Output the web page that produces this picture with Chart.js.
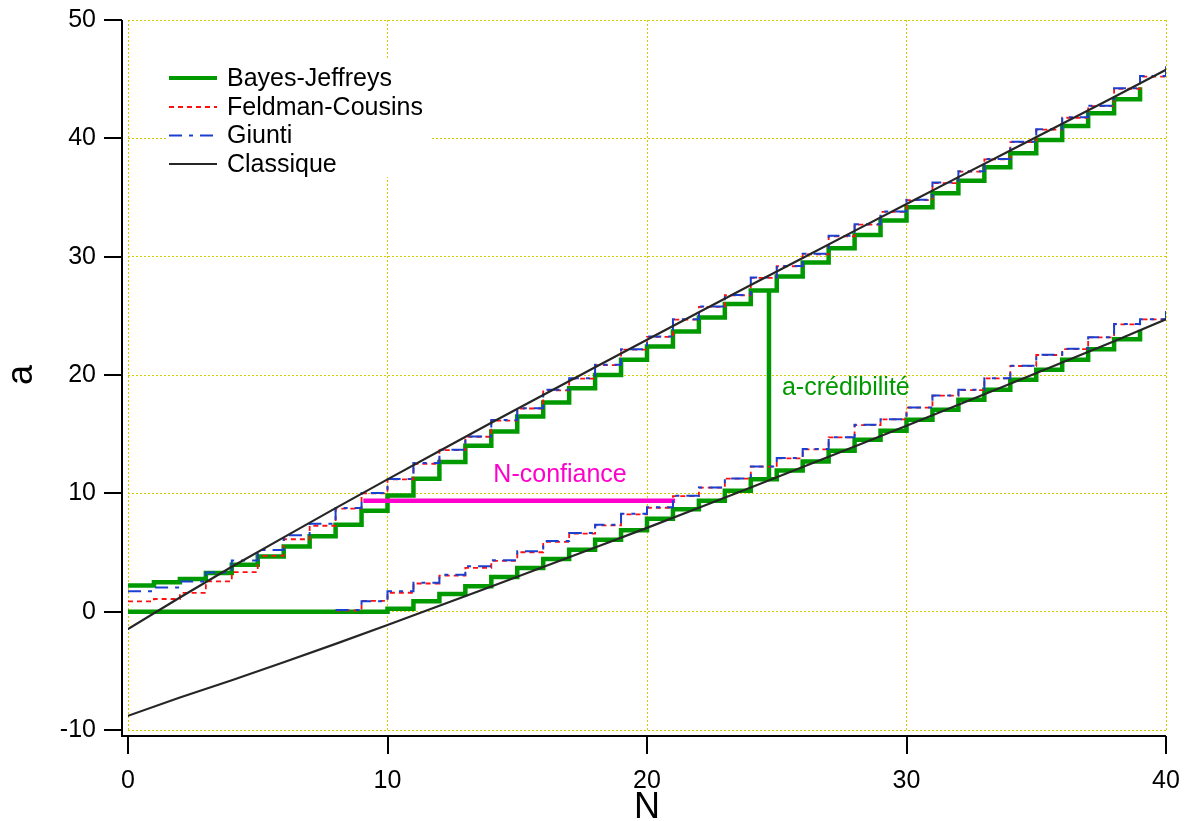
<!DOCTYPE html>
<html>
<head>
<meta charset="utf-8">
<title>Intervalles a vs N</title>
<script src="https://cdn.jsdelivr.net/npm/chart.js@4.4.0/dist/chart.umd.min.js"></script>
<style>
  html, body { margin: 0; padding: 0; background: #ffffff; }
  #wrap { width: 1186px; height: 821px; }
</style>
</head>
<body>
<div id="wrap"><canvas id="c" width="1186" height="821"></canvas></div>
<script>
// Observed counts N
const nValues = [0, 1, 2, 3, 4, 5, 6, 7, 8, 9, 10, 11, 12, 13, 14, 15, 16, 17, 18, 19, 20,
                 21, 22, 23, 24, 25, 26, 27, 28, 29, 30, 31, 32, 33, 34, 35, 36, 37, 38, 39, 40];

// Bayes-Jeffreys interval bounds (N = 0 .. 39)
const bayesUpper = [2.22, 2.48, 2.76, 3.27, 3.97, 4.67, 5.50, 6.38, 7.35, 8.53,
                    9.82, 11.23, 12.64, 14.02, 15.23, 16.50, 17.68, 18.89, 20.00, 21.28,
                    22.41, 23.68, 24.86, 26.01, 27.15, 28.32, 29.50, 30.72, 31.84, 33.05,
                    34.18, 35.36, 36.42, 37.56, 38.74, 39.86, 41.05, 42.12, 43.30, 44.31];
const bayesLower = [0, 0, 0, 0, 0, 0, 0, 0, 0, 0,
                    0.25, 0.87, 1.50, 2.14, 2.93, 3.69, 4.45, 5.24, 6.08, 6.87,
                    7.85, 8.65, 9.37, 10.22, 11.20, 11.94, 12.70, 13.60, 14.53, 15.29,
                    16.22, 17.06, 17.90, 18.75, 19.59, 20.44, 21.28, 22.18, 23.03, 23.82];

// Feldman-Cousins interval bounds (N = 0 .. 40)
const fcUpper = [0.87, 1.07, 1.58, 2.56, 3.35, 4.72, 6.12, 7.26, 8.70, 10.00,
                 11.18, 12.50, 13.65, 14.78, 16.15, 17.17, 18.70, 19.70, 20.83, 22.14,
                 23.22, 24.68, 25.75, 26.74, 28.20, 29.19, 30.20, 31.72, 32.70, 33.78,
                 34.77, 36.22, 37.18, 38.22, 39.68, 40.73, 41.74, 42.72, 44.19, 45.22, 46.10];
const fcLower = [null, null, null, null, null, null, null, null, 0.10, 0.92,
                 1.60, 2.38, 3.05, 3.70, 4.30, 5.02, 5.90, 6.60, 7.30, 8.22,
                 8.78, 9.76, 10.48, 11.24, 12.25, 12.96, 13.72, 14.73, 15.77, 16.25,
                 17.24, 18.25, 18.73, 19.71, 20.76, 21.69, 22.19, 23.18, 24.28, 24.70, 25.70];

// Giunti interval bounds (N = 0 .. 40)
const giuntiUpper = [1.72, 2.05, 2.55, 3.30, 4.33, 5.22, 6.45, 7.43, 8.76, 10.02,
                     11.22, 12.56, 13.68, 14.81, 16.20, 17.20, 18.75, 19.73, 20.86, 22.18,
                     23.25, 24.72, 25.79, 26.77, 28.24, 29.22, 30.24, 31.76, 32.74, 33.81,
                     34.80, 36.26, 37.22, 38.26, 39.72, 40.77, 41.78, 42.76, 44.23, 45.27, 46.20];
const giuntiLower = [null, null, null, null, null, null, null, null, 0.15, 0.87,
                     1.72, 2.45, 3.13, 3.83, 4.35, 5.10, 5.97, 6.64, 7.35, 8.28,
                     8.82, 9.80, 10.50, 11.26, 12.27, 12.98, 13.74, 14.75, 15.79, 16.27,
                     17.26, 18.27, 18.75, 19.73, 20.78, 21.71, 22.21, 23.20, 24.30, 24.72, 25.79];

// Classical bounds, sampled every 2 in N
const classicN = [0, 2, 4, 6, 8, 10, 12, 14, 16, 18, 20, 22, 24, 26, 28, 30, 32, 34, 36, 38, 40];
const classicUpper = [-1.46, 1.20, 3.80, 6.28, 8.75, 11.18, 13.58, 15.96, 18.31, 20.66, 22.98,
                      25.30, 27.60, 29.89, 32.18, 34.45, 36.72, 38.98, 41.23, 43.50, 45.80];
const classicLower = [-8.80, -7.25, -5.80, -4.28, -2.72, -1.12, 0.50, 2.12, 3.78, 5.42, 7.08,
                      8.78, 10.50, 12.22, 13.95, 15.72, 17.48, 19.26, 21.05, 22.85, 24.70];

// Annotations: credibility span at N = 24.7, confidence span at a = 9.37
const credN = 24.7;
const credIndex = 24;
const confA = 9.37;
const confRange = [9.07, 21.08];

// Axis ticks
const xTicks = [0, 10, 20, 30, 40];
const yTicks = [-10, 0, 10, 20, 30, 40, 50];

const FONT = "'Liberation Sans', Arial, Helvetica, sans-serif";
const GREEN = '#009a00';
const RED = '#ff1010';
const BLUE = '#1a40d0';
const DARK = '#262626';
const MAGENTA = '#ff00cc';
const GRID = '#d2cc00';

Chart.defaults.font.family = FONT;
Chart.defaults.color = '#000';

function pts(xs, ys) {
  return ys.map((v, i) => ({ x: xs[i], y: v }));
}

const styles = {
  bayes:   { label: 'Bayes-Jeffreys',  color: GREEN, width: 4.5, dash: [] },
  fc:      { label: 'Feldman-Cousins', color: RED,   width: 1.8, dash: [5, 4] },
  giunti:  { label: 'Giunti',          color: BLUE,  width: 2.0, dash: [13, 7, 4, 7] },
  classic: { label: 'Classique',       color: DARK,  width: 2.2, dash: [] }
};

function stepSet(style, data) {
  return {
    data, borderColor: style.color, borderWidth: style.width, borderDash: style.dash,
    stepped: 'before', pointRadius: 0, fill: false, spanGaps: false,
    borderCapStyle: 'butt', borderJoinStyle: 'miter'
  };
}
function lineSet(style, data) {
  return {
    data, borderColor: style.color, borderWidth: style.width, borderDash: style.dash,
    stepped: false, pointRadius: 0, fill: false, borderCapStyle: 'round'
  };
}

// datasets earlier in the list are painted on top
const datasets = [
  lineSet(styles.classic, pts(classicN, classicUpper)),
  lineSet(styles.classic, pts(classicN, classicLower)),
  stepSet(styles.giunti, pts(nValues, giuntiUpper)),
  stepSet(styles.giunti, pts(nValues, giuntiLower)),
  stepSet(styles.fc, pts(nValues, fcUpper)),
  stepSet(styles.fc, pts(nValues, fcLower)),
  {
    data: [{ x: confRange[0], y: confA }, { x: confRange[1], y: confA }],
    borderColor: MAGENTA, borderWidth: 4.5, pointRadius: 0, borderCapStyle: 'butt'
  },
  {
    data: [{ x: credN, y: bayesUpper[credIndex] }, { x: credN, y: bayesLower[credIndex] }],
    borderColor: GREEN, borderWidth: 4.5, pointRadius: 0, borderCapStyle: 'butt'
  },
  stepSet(styles.bayes, pts(nValues, bayesUpper)),
  stepSet(styles.bayes, pts(nValues, bayesLower))
];

const legendOrder = [styles.bayes, styles.fc, styles.giunti, styles.classic];
const legendBox = { x: 167, y: 60, w: 263, h: 117 };
const legendRows = [78, 107, 135.5, 164];

const framePlugin = {
  id: 'frame',
  beforeDatasetsDraw(chart) {
    const ctx = chart.ctx;
    ctx.save();
    ctx.fillStyle = '#ffffff';
    ctx.fillRect(legendBox.x, legendBox.y, legendBox.w, legendBox.h);
    ctx.restore();
  },
  afterDatasetsDraw(chart) {
    const ctx = chart.ctx;
    const xs = chart.scales.x, ys = chart.scales.y;
    ctx.save();
    // annotation labels
    ctx.font = '25px ' + FONT;
    ctx.textBaseline = 'alphabetic';
    ctx.fillStyle = MAGENTA;
    ctx.textAlign = 'center';
    ctx.fillText('N-confiance', xs.getPixelForValue(16.65), ys.getPixelForValue(10.98));
    ctx.fillStyle = GREEN;
    ctx.textAlign = 'left';
    ctx.fillText('a-crédibilité', xs.getPixelForValue(25.2), ys.getPixelForValue(18.33));

    // legend
    legendOrder.forEach((s, i) => {
      const y = legendRows[i];
      ctx.beginPath();
      ctx.strokeStyle = s.color;
      ctx.lineWidth = s.width === 4.5 ? 4 : s.width;
      ctx.setLineDash(s.dash);
      ctx.moveTo(169, y);
      ctx.lineTo(217, y);
      ctx.stroke();
      ctx.setLineDash([]);
      ctx.fillStyle = '#000';
      ctx.textAlign = 'left';
      ctx.textBaseline = 'middle';
      ctx.font = '25px ' + FONT;
      ctx.fillText(s.label, 227, y + 1);
    });
    ctx.restore();
  },
  afterDraw(chart) {
    const ctx = chart.ctx;
    const xs = chart.scales.x, ys = chart.scales.y;
    const area = chart.chartArea;
    const spineX = area.left - 6;
    const spineY = area.bottom + 6;
    ctx.save();
    ctx.strokeStyle = '#000';
    ctx.lineWidth = 2;
    ctx.setLineDash([]);
    ctx.beginPath();
    ctx.moveTo(spineX, ys.getPixelForValue(50));
    ctx.lineTo(spineX, spineY);
    ctx.lineTo(area.right, spineY);
    ctx.stroke();
    ctx.beginPath();
    yTicks.forEach(v => {
      const y = Math.round(ys.getPixelForValue(v));
      ctx.moveTo(spineX - 18, y);
      ctx.lineTo(spineX, y);
    });
    xTicks.forEach(v => {
      const x = Math.round(xs.getPixelForValue(v));
      ctx.moveTo(x, spineY);
      ctx.lineTo(x, spineY + 18);
    });
    ctx.stroke();

    // axis titles
    ctx.fillStyle = '#000';
    ctx.font = '36px ' + FONT;
    ctx.textAlign = 'center';
    ctx.textBaseline = 'alphabetic';
    ctx.fillText('N', xs.getPixelForValue(20), 818);
    ctx.save();
    ctx.translate(22, ys.getPixelForValue(20));
    ctx.rotate(-Math.PI / 2);
    ctx.textBaseline = 'middle';
    ctx.fillText('a', 0, 0);
    ctx.restore();
    ctx.restore();
  }
};

new Chart(document.getElementById('c'), {
  type: 'line',
  data: { datasets },
  options: {
    responsive: false,
    animation: false,
    devicePixelRatio: 1,
    layout: { padding: { top: 20, right: 20, left: 0, bottom: 0 } },
    plugins: { legend: { display: false }, tooltip: { enabled: false } },
    elements: { point: { radius: 0 }, line: { tension: 0 } },
    scales: {
      x: {
        type: 'linear', min: 0, max: 40,
        afterBuildTicks(scale) { scale.ticks = xTicks.map(v => ({ value: v })); },
        afterFit(scale) {
          scale.height = 91;
          scale.paddingLeft = 0; scale.paddingRight = 0;
        },
        ticks: { padding: 36, font: { size: 25 }, color: '#000', maxRotation: 0 },
        grid: { color: GRID, lineWidth: 1, drawTicks: false },
        border: { display: false, dash: [2, 2] }
      },
      y: {
        type: 'linear', min: -10, max: 50,
        afterBuildTicks(scale) { scale.ticks = yTicks.map(v => ({ value: v })); },
        afterFit(scale) {
          scale.width = 128;
          scale.paddingTop = 0; scale.paddingBottom = 0;
        },
        ticks: { padding: 32, font: { size: 25 }, color: '#000' },
        grid: { color: GRID, lineWidth: 1, drawTicks: false },
        border: { display: false, dash: [2, 2] }
      }
    }
  },
  plugins: [framePlugin]
});
</script>
</body>
</html>
